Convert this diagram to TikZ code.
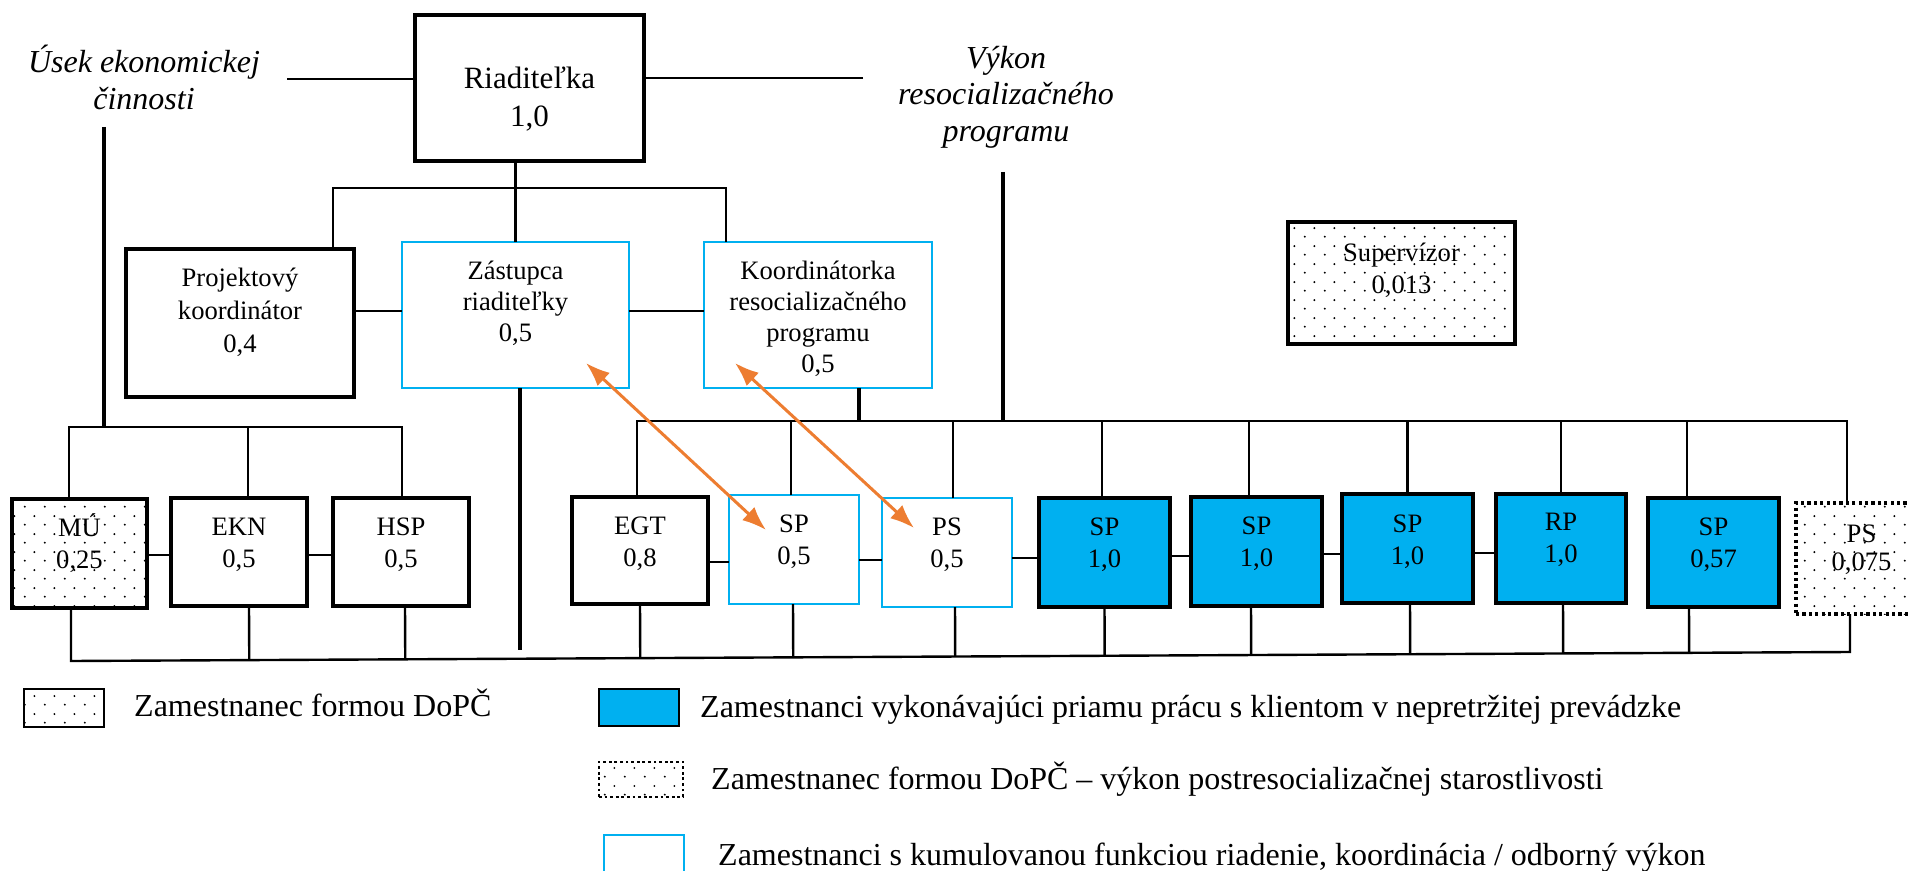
\documentclass[tikz,border=0pt]{standalone}
\usepackage{fontspec}
\setmainfont{Liberation Serif}
\usetikzlibrary{patterns,arrows.meta,calc,fit}
\definecolor{cblue}{HTML}{00B0F0}
\definecolor{corange}{HTML}{ED7D31}
\pgfdeclarepatternformonly{sdots}{\pgfqpoint{0pt}{0pt}}{\pgfqpoint{10pt}{9pt}}{\pgfqpoint{10pt}{9pt}}{%
  \pgfpathcircle{\pgfqpoint{2.5pt}{2.25pt}}{0.55pt}%
  \pgfpathcircle{\pgfqpoint{7.5pt}{6.75pt}}{0.55pt}%
  \pgfusepath{fill}}
\newcommand\tst[1]{\rule{0pt}{#1}}
\begin{document}
\begin{tikzpicture}[x=0.5pt,y=-0.5pt,line width=1.2pt,
  box/.style={rectangle, inner sep=0pt, outer sep=0pt},
  thickbox/.style={box, draw=black, line width=2pt, fill=white},
  bluebox/.style={box, draw=cblue, line width=1.2pt, fill=white},
  fillbox/.style={box, draw=black, line width=2pt, fill=cblue},
  fillthin/.style={box, draw=black, line width=1.1pt, fill=cblue},
  dotbox/.style={box, draw=black, line width=2pt, fill=white, postaction={pattern=sdots}},
  dotthin/.style={box, draw=black, line width=1.1pt, fill=white, postaction={pattern=sdots}},
  dotedge/.style={box, draw=black, line width=1.6pt, dash pattern=on 1.6pt off 1.6pt, fill=white, postaction={pattern=sdots}},
  dotedgethin/.style={box, draw=black, line width=1.4pt, dash pattern=on 1.4pt off 1.4pt, fill=white, postaction={pattern=sdots}},
  lbl/.style={inner sep=0pt, anchor=north, align=center, font=\fontsize{13.3pt}{16pt}\selectfont},
  ital/.style={inner sep=0pt, anchor=north, align=center, font=\fontsize{16pt}{18.5pt}\selectfont\itshape},
  legtext/.style={inner sep=0pt, anchor=base west, font=\fontsize{16pt}{19pt}\selectfont},
  heavy/.style={line width=1.8pt},
  orarrow/.style={draw=corange, line width=1.5pt, {Latex[length=12pt,width=9pt]}-{Latex[length=12pt,width=9pt]}}
]
\useasboundingbox (0,0) rectangle (1910,871);
\clip (0,0) rectangle (1910,871);

% ---------- boxes ----------
\node[thickbox, fit={(415,15) (644,161)}] (riad) {};
\node[thickbox, fit={(126,249) (354,397)}] (proj) {};
\node[bluebox, fit={(402,242) (629,388)}] (zast) {};
\node[bluebox, fit={(704,242) (932,388)}] (koord) {};
\node[dotbox, fit={(1288,222) (1515,344)}] (sup) {};

\node[dotbox, fit={(12,499) (147,608)}] (mu) {};
\node[thickbox, fit={(171,498) (307,606)}] (ekn) {};
\node[thickbox, fit={(333,498) (469,606)}] (hsp) {};
\node[thickbox, fit={(572,497) (708,604)}] (egt) {};
\node[bluebox, fit={(729,495) (859,604)}] (sp) {};
\node[bluebox, fit={(882,498) (1012,607)}] (ps) {};
\node[fillbox, fit={(1039,498) (1170,607)}] (spa) {};
\node[fillbox, fit={(1191,497) (1322,606)}] (spb) {};
\node[fillbox, fit={(1342,494) (1473,603)}] (spc) {};
\node[fillbox, fit={(1496,494) (1626,603)}] (rp) {};
\node[fillbox, fit={(1648,498) (1779,607)}] (spd) {};
\node[dotedge, fit={(1796,503) (1927,614)}] (psr) {};

% ---------- box texts ----------
\node[lbl, font=\fontsize{15.5pt}{19pt}\selectfont] (riadT) at (529.5,61) {\tst{13pt}Riaditeľka\\1,0};
\node[lbl, font=\fontsize{13.3pt}{16.5pt}\selectfont] (projT) at (240,259) {\tst{13pt}Projektový\\koordinátor\\0,4};
\node[lbl, font=\fontsize{13.3pt}{15.5pt}\selectfont] (zastT) at (515.5,252) {\tst{13pt}Zástupca\\riaditeľky\\0,5};
\node[lbl, font=\fontsize{13.3pt}{15.5pt}\selectfont] (koordT) at (818,252) {\tst{13pt}Koordinátorka\\resocializačného\\programu\\0,5};
\node[lbl] (supT) at (1401.5,234) {\tst{13pt}Supervízor\\0,013};
\node[lbl] (muT) at (79.5,509) {\tst{13pt}MÚ\\0,25};
\node[lbl] (eknT) at (239,508) {\tst{13pt}EKN\\0,5};
\node[lbl] (hspT) at (401,508) {\tst{13pt}HSP\\0,5};
\node[lbl] (egtT) at (640,507) {\tst{13pt}EGT\\0,8};
\node[lbl] (spT) at (794,505) {\tst{13pt}SP\\0,5};
\node[lbl] (psT) at (947,508) {\tst{13pt}PS\\0,5};
\node[lbl] (spaT) at (1104.5,508) {\tst{13pt}SP\\1,0};
\node[lbl] (spbT) at (1256.5,507) {\tst{13pt}SP\\1,0};
\node[lbl] (spcT) at (1407.5,505) {\tst{13pt}SP\\1,0};
\node[lbl] (rpT) at (1561,503) {\tst{13pt}RP\\1,0};
\node[lbl] (spdT) at (1713.5,508) {\tst{13pt}SP\\0,57};
\node[lbl, font=\fontsize{13.3pt}{14pt}\selectfont] (psrT) at (1861.5,515) {\tst{13pt}PS\\0,075};

% ---------- italic headings ----------
\node[ital] (usek) at (144,41) {\tst{15pt}Úsek ekonomickej\\činnosti};
\node[ital, font=\fontsize{16pt}{18.25pt}\selectfont\itshape] (vykon) at (1006,37) {\tst{15pt}Výkon\\resocializačného\\programu};

% ---------- top connectors ----------
\coordinate (usekE) at (287,79);
\coordinate (vykE) at (863,78);
\draw[line width=1.4pt] (usekE) -- (usekE -| riad.west);
\draw[line width=1.4pt] (vykE) -- (vykE -| riad.east);
\draw[heavy] (riad.south -| zast.north) -- (zast.north);
\coordinate (tbL) at (333,188);
\coordinate (tbR) at (726,188);
\draw (tbL |- proj.north) -- (tbL) -- (tbR) -- (tbR |- koord.north);
\draw (proj.east |- 0,311) -- (zast.west |- 0,311);
\draw (zast.east |- 0,311) -- (koord.west |- 0,311);

% ---------- economic section ----------
\coordinate (usekT) at (104,127);
\coordinate (ebL) at (69,427);
\coordinate (ebR) at (402,427);
\draw[heavy] (usekT) -- (usekT |- ebL);
\draw (mu.north -| ebL) -- (ebL) -- (ebR) -- (ebR |- hsp.north);
\draw ([xshift=4.5pt]ekn.north) -- ([xshift=4.5pt]ekn.north |- ebL);
\draw (mu.east |- 0,555) -- (ekn.west |- 0,555);
\draw (ekn.east |- 0,555) -- (hsp.west |- 0,555);

% ---------- deputy line ----------
\coordinate (zastE) at (520,650);
\draw[heavy] (zast.south -| zastE) -- (zastE);

% ---------- program section ----------
\coordinate (pbL) at (637,421);
\coordinate (pbR) at (1847,421);
\draw (egt.north -| pbL) -- (pbL) -- (pbR) -- (pbR |- psr.north);
\coordinate (vykT) at (1003,172);
\draw[heavy] (vykT) -- (vykT |- pbL);
\draw[heavy] ([xshift=20.5pt]koord.south) -- ([xshift=20.5pt]koord.south |- pbL);
\foreach \n/\dx in {sp/-1.5, ps/3, spa/-1.25, spb/-3.75, spc/0, rp/0, spd/-13.25}
  \draw ([xshift=\dx pt]\n.north) -- ([xshift=\dx pt]\n.north |- pbL);
\draw (egt.east |- 0,562) -- (sp.west |- 0,562);
\draw (sp.east |- 0,560) -- (ps.west |- 0,560);
\draw (ps.east |- 0,558) -- (spa.west |- 0,558);
\draw (spa.east |- 0,556) -- (spb.west |- 0,556);
\draw (spb.east |- 0,554) -- (spc.west |- 0,554);
\draw (spc.east |- 0,553) -- (rp.west |- 0,553);

% ---------- bottom bus ----------
\coordinate (bbL) at (71,661);
\coordinate (bbR) at (1850,652);
\draw (mu.south -| bbL) -- (bbL) -- (bbR) -- (bbR |- psr.south);
\foreach \n/\dx in {ekn/5, hsp/2, egt/0, sp/-0.5, ps/4, spa/0, spb/-2.75, spc/1.25, rp/1, spd/-12.25}
  \draw ([xshift=\dx pt]\n.south) -- ($(bbL)!([xshift=\dx pt]\n.south)!(bbR)$);

% ---------- orange arrows ----------
\coordinate (a1s) at (586,363);
\coordinate (a1e) at (766,530);
\coordinate (a2s) at (735,363);
\coordinate (a2e) at (914,528);
\draw[orarrow] (a1s) -- (a1e);
\draw[orarrow] (a2s) -- (a2e);

% ---------- legend ----------
\node[dotthin, fit={(24,689) (104,727)}] (lg1) {};
\node[legtext] (lg1t) at (133,716) {Zamestnanec formou DoPČ};
\node[fillthin, fit={(599,689) (679,726)}] (lg2) {};
\node[legtext] (lg2t) at (699,717) {Zamestnanci vykonávajúci priamu prácu s klientom v nepretržitej prevádzke};
\node[dotedgethin, fit={(599,762) (683,797)}] (lg3) {};
\node[legtext] (lg3t) at (710,789) {Zamestnanec formou DoPČ – výkon postresocializačnej starostlivosti};
\node[bluebox, fit={(604,835) (684,885)}] (lg4) {};
\node[legtext] (lg4t) at (717,865) {Zamestnanci s kumulovanou funkciou riadenie, koordinácia / odborný výkon};
\end{tikzpicture}
\end{document}
